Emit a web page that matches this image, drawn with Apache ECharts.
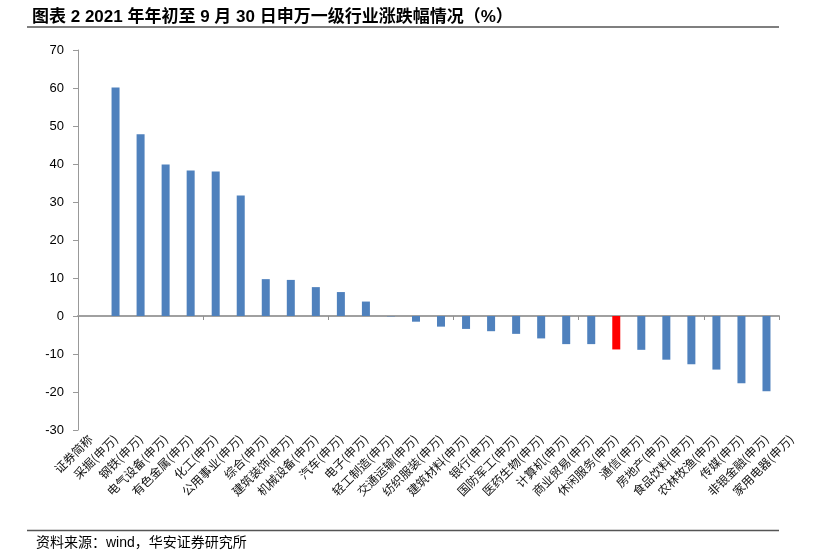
<!DOCTYPE html>
<html>
<head>
<meta charset="utf-8">
<script src="https://cdn.jsdelivr.net/npm/echarts@6/dist/echarts.min.js"></script>
<style>
html,body{margin:0;padding:0;background:#fff;}
#chart{width:818px;height:550px;}
</style>
</head>
<body>
<div id="chart"></div>
<script>
// Category labels exactly as printed under the axis (29 labels)
var categories = ['证券简称','采掘(申万)','钢铁(申万)','电气设备(申万)','有色金属(申万)','化工(申万)','公用事业(申万)','综合(申万)','建筑装饰(申万)','机械设备(申万)','汽车(申万)','电子(申万)','轻工制造(申万)','交通运输(申万)','纺织服装(申万)','建筑材料(申万)','银行(申万)','国防军工(申万)','医药生物(申万)','计算机(申万)','商业贸易(申万)','休闲服务(申万)','通信(申万)','房地产(申万)','食品饮料(申万)','农林牧渔(申万)','传媒(申万)','非银金融(申万)','家用电器(申万)'];
// Bar values on the 28 axis slots (first slot empty)
var values = [null,60.1,47.8,39.9,38.3,38.0,31.7,9.7,9.5,7.6,6.3,3.8,-0.1,-1.5,-2.8,-3.4,-4.0,-4.7,-5.9,-7.4,-7.4,-8.8,-8.9,-11.5,-12.7,-14.1,-17.7,-19.8];
var highlightIndex = 21;
var yTicks = {min:-30, max:70, interval:10};

var barSlots = categories.slice(0, values.length);
var barData = values.map(function(v, i){
  if (v === null) return '-';
  return {value: v, itemStyle: {color: i === highlightIndex ? '#FF0000' : '#4F81BD'}};
});

var chart = echarts.init(document.getElementById('chart'), null, {renderer:'canvas'});
chart.setOption({
  animation: false,
  backgroundColor: '#ffffff',
  title: {
    text: '图表 2 2021 年年初至 9 月 30 日申万一级行业涨跌幅情况（%）',
    left: 27, top: 4,
    textStyle: {fontSize: 17, fontWeight: 'bold', color: '#000', fontFamily: '"Liberation Sans","Noto Sans CJK SC",sans-serif'}
  },
  graphic: [
    {type:'line', shape:{x1:27, y1:27, x2:779, y2:27}, style:{stroke:'#555', lineWidth:1.5}},
    {type:'line', shape:{x1:27, y1:530.5, x2:779, y2:530.5}, style:{stroke:'#555', lineWidth:1.5}},
    {type:'text', left:36, top:536, style:{text:'资料来源：wind，华安证券研究所', fontSize:14, fill:'#000', fontFamily:'"Liberation Sans","Noto Sans CJK SC",sans-serif'}}
  ],
  grid: [
    {left:78, right:39, top:50, bottom:120, containLabel:false},
    {left:78, right:14, top:50, bottom:120, containLabel:false}
  ],
  xAxis: [
    {
      type:'category', gridIndex:0, data: barSlots,
      axisLine:{show:true, onZero:true, lineStyle:{color:'#a0a0a0', width:2}},
      axisTick:{show:true, length:4, lineStyle:{color:'#909090'}},
      axisLabel:{show:false}
    },
    {
      type:'category', gridIndex:1, data: categories, position:'bottom',
      axisLine:{show:false, onZero:false}, axisTick:{show:false},
      axisLabel:{show:true, interval:0, rotate:45, margin:7, fontSize:12, color:'#111',
        fontFamily:'"Noto Sans CJK SC",sans-serif'}
    }
  ],
  yAxis: [
    {
      type:'value', gridIndex:0, min:yTicks.min, max:yTicks.max, interval:yTicks.interval,
      axisLine:{show:true, lineStyle:{color:'#999', width:1}},
      axisTick:{show:true, length:5, lineStyle:{color:'#999'}},
      splitLine:{show:false},
      axisLabel:{fontSize:13, color:'#000', margin:14, fontFamily:'"Liberation Sans",Arial,sans-serif'}
    },
    {
      type:'value', gridIndex:1, min:yTicks.min, max:yTicks.max, interval:yTicks.interval,
      show:false
    }
  ],
  series: [
    {type:'bar', xAxisIndex:0, yAxisIndex:0, data: barData, barWidth:8,
     itemStyle:{color:'#4F81BD'}}
  ]
});
</script>
</body>
</html>
